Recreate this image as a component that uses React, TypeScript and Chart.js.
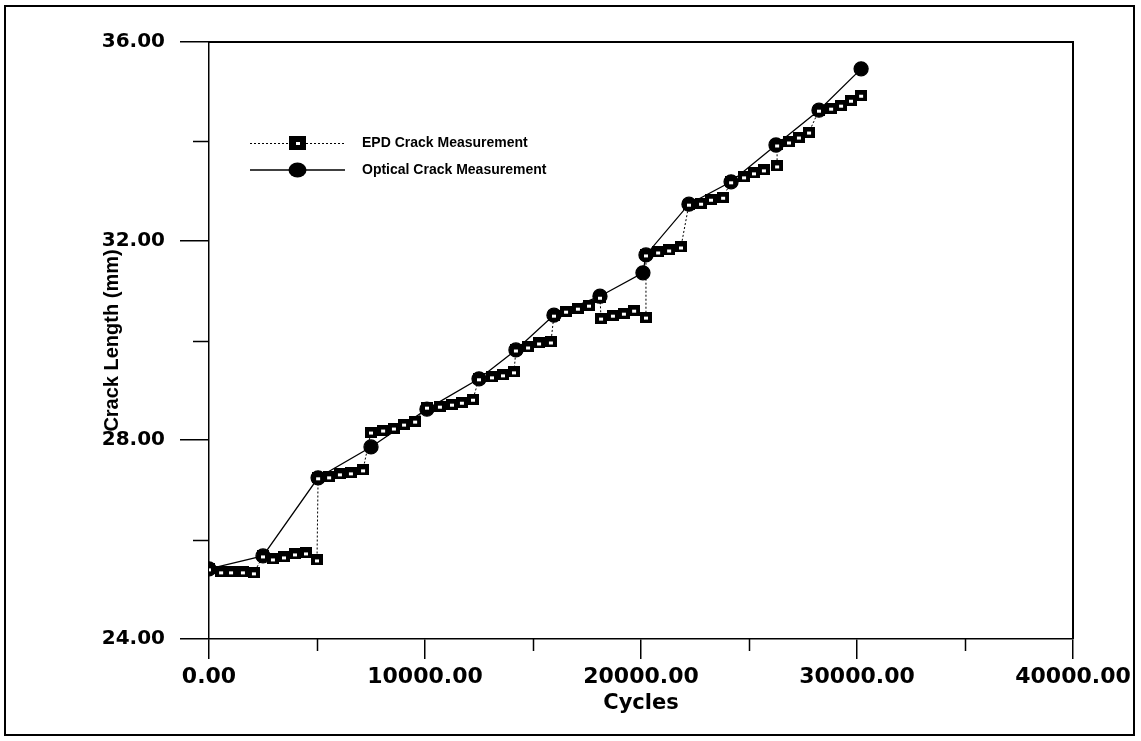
import React, { useEffect, useRef } from 'react';
import { Chart, registerables } from 'chart.js';

Chart.register(...registerables);

// ---- Data ----
const seriesNames = ['EPD Crack Measurement', 'Optical Crack Measurement'];

const epdCycles = [
  0, 560, 1020, 1570, 2080,
  2500, 2960, 3470, 3980, 4490, 5000,
  5050, 5560, 6060, 6570, 7130,
  7500, 8060, 8560, 9030, 9540,
  10090, 10690, 11250, 11710, 12220,
  12500, 13100, 13610, 14120,
  14210, 14770, 15280, 15830,
  15970, 16530, 17080, 17590, 18100,
  18150, 18700, 19210, 19680, 20230,
  20230, 20790, 21300, 21850,
  22220, 22780, 23240, 23800,
  24170, 24770, 25230, 25690, 26300,
  26300, 26850, 27310, 27780,
  28240, 28800, 29260, 29720, 30190,
];
const epdLength = [
  25.41, 25.35, 25.35, 25.35, 25.33,
  25.67, 25.61, 25.65, 25.71, 25.73, 25.59,
  27.24, 27.26, 27.32, 27.34, 27.4,
  28.16, 28.2, 28.24, 28.32, 28.38,
  28.66, 28.68, 28.72, 28.76, 28.82,
  29.23, 29.27, 29.31, 29.37,
  29.81, 29.87, 29.95, 29.97,
  30.51, 30.59, 30.65, 30.71, 30.87,
  30.45, 30.51, 30.55, 30.61, 30.47,
  31.72, 31.78, 31.82, 31.88,
  32.74, 32.76, 32.84, 32.88,
  33.19, 33.29, 33.37, 33.43, 33.51,
  33.93, 33.99, 34.09, 34.19,
  34.63, 34.67, 34.73, 34.83, 34.93,
];

const opticalCycles = [
  0, 2500, 5050, 7500, 10090, 12500, 14210, 15970,
  18100, 20090, 20230, 22220, 24170, 26250, 28240, 30190,
];
const opticalLength = [
  25.41, 25.67, 27.24, 27.86, 28.62, 29.23, 29.81, 30.51,
  30.89, 31.36, 31.72, 32.74, 33.19, 33.93, 34.63, 35.46,
];

const xTicks = [0, 10000, 20000, 30000, 40000];
const xMinorTicks = [5000, 15000, 25000, 35000];
const yTicks = [24, 28, 32, 36];
const yMinorTicks = [26, 30, 34];

const xTitle = 'Cycles';
const yTitle = 'Crack Length (mm)';

function makeSquare(w: number, h: number): HTMLCanvasElement {
  const c = document.createElement('canvas');
  c.width = w;
  c.height = h;
  const g = c.getContext('2d')!;
  g.fillStyle = '#000';
  g.fillRect(0, 0, w, h);
  g.fillStyle = '#fff';
  g.fillRect(Math.round(w / 2 - 2), Math.round(h / 2 - 1), 4, 3);
  return c;
}

export default function App() {
  const ref = useRef<HTMLCanvasElement | null>(null);

  useEffect(() => {
    const canvas = ref.current;
    if (!canvas) return;
    const sq = makeSquare(12, 11);

    const framePlugin = {
      id: 'frameAndLegend',
      afterDraw(chart: any) {
        const { ctx, chartArea } = chart;
        const xs = chart.scales.x;
        const ys = chart.scales.y;
        ctx.save();
        ctx.strokeStyle = '#000';
        ctx.setLineDash([]);
        // top and right borders of plot box
        ctx.lineWidth = 2;
        ctx.beginPath();
        ctx.moveTo(chartArea.left, chartArea.top);
        ctx.lineTo(chartArea.right, chartArea.top);
        ctx.lineTo(chartArea.right, chartArea.bottom);
        ctx.stroke();
        // minor ticks
        ctx.lineWidth = 1.5;
        ctx.beginPath();
        xMinorTicks.forEach((v) => {
          const px = Math.round(xs.getPixelForValue(v)) + 0.5;
          ctx.moveTo(px, chartArea.bottom);
          ctx.lineTo(px, chartArea.bottom + 12);
        });
        yMinorTicks.forEach((v) => {
          const py = Math.round(ys.getPixelForValue(v)) + 0.5;
          ctx.moveTo(chartArea.left - 16, py);
          ctx.lineTo(chartArea.left, py);
        });
        ctx.stroke();

        // legend
        const lx0 = chartArea.left + 41;
        const lx1 = chartArea.left + 136;
        const lmid = (lx0 + lx1) / 2;
        const ly1 = chartArea.top + 101;
        const ly2 = chartArea.top + 128;
        ctx.lineWidth = 1;
        ctx.setLineDash([2, 2]);
        ctx.beginPath();
        ctx.moveTo(lx0, ly1 + 0.5);
        ctx.lineTo(lx1, ly1 + 0.5);
        ctx.stroke();
        ctx.setLineDash([]);
        ctx.drawImage(makeSquare(17, 14), lmid - 8.5, ly1 - 7);
        ctx.lineWidth = 1.5;
        ctx.beginPath();
        ctx.moveTo(lx0, ly2);
        ctx.lineTo(lx1, ly2);
        ctx.stroke();
        ctx.fillStyle = '#000';
        ctx.beginPath();
        ctx.ellipse(lmid, ly2, 9, 7.5, 0, 0, Math.PI * 2);
        ctx.fill();
        ctx.font = 'bold 14px "Liberation Sans", Arial, sans-serif';
        ctx.textBaseline = 'middle';
        ctx.textAlign = 'left';
        ctx.fillText(seriesNames[0], chartArea.left + 153, ly1);
        ctx.fillText(seriesNames[1], chartArea.left + 153, ly2);
        ctx.restore();
      },
    };

    const chart = new Chart(canvas, {
      type: 'line',
      data: {
        datasets: [
          {
            label: seriesNames[0],
            data: epdCycles.map((x, i) => ({ x, y: epdLength[i] })),
            borderColor: '#000',
            backgroundColor: '#000',
            borderWidth: 1,
            borderDash: [2, 2],
            pointStyle: sq as any,
            pointRadius: 6,
            tension: 0,
          },
          {
            label: seriesNames[1],
            data: opticalCycles.map((x, i) => ({ x, y: opticalLength[i] })),
            borderColor: '#000',
            backgroundColor: '#000',
            pointBorderColor: '#000',
            borderWidth: 1.3,
            pointStyle: 'circle',
            pointRadius: 7,
            tension: 0,
          },
        ],
      },
      options: {
        responsive: false,
        animation: false,
        devicePixelRatio: 1,
        layout: { padding: { top: 42, right: 68, bottom: 0, left: 0 } },
        plugins: {
          legend: { display: false },
          tooltip: { enabled: false },
        },
        scales: {
          x: {
            type: 'linear',
            min: 0,
            max: 40000,
            afterBuildTicks: (s: any) => {
              s.ticks = xTicks.map((v) => ({ value: v }));
            },
            afterFit: (s: any) => {
              s.height = 102;
            },
            ticks: {
              callback: (v: any) => Number(v).toFixed(2),
              font: { family: 'DejaVu Sans', weight: 'bold', size: 22 },
              color: '#000',
              padding: 5,
              maxRotation: 0,
              autoSkip: false,
            },
            grid: {
              drawOnChartArea: false,
              tickLength: 20,
              color: '#000',
              lineWidth: 1.5,
            },
            border: { color: '#000', width: 1.5 },
            title: {
              display: true,
              text: xTitle,
              color: '#000',
              font: { family: 'DejaVu Sans', weight: 'bold', size: 21 },
              padding: { top: 0, bottom: 25 },
            },
          },
          y: {
            type: 'linear',
            min: 24,
            max: 36,
            afterBuildTicks: (s: any) => {
              s.ticks = yTicks.map((v) => ({ value: v }));
            },
            afterFit: (s: any) => {
              s.width = 209;
            },
            ticks: {
              callback: (v: any) => Number(v).toFixed(2),
              font: { family: 'DejaVu Sans', weight: 'bold', size: 20 },
              color: '#000',
              padding: 15,
              autoSkip: false,
            },
            grid: {
              drawOnChartArea: false,
              tickLength: 29,
              color: '#000',
              lineWidth: 1.5,
            },
            border: { color: '#000', width: 1.5 },
            title: {
              display: true,
              text: yTitle,
              color: '#000',
              font: { family: 'Liberation Sans', weight: 'bold', size: 20 },
              padding: { top: 100, bottom: 0 },
            },
          },
        },
      },
      plugins: [framePlugin],
    } as any);

    return () => chart.destroy();
  }, []);

  return (
    <div style={{ position: 'fixed', left: 0, top: 0, width: 1141, height: 741, background: '#fff' }}>
      <canvas ref={ref} width={1141} height={741} style={{ position: 'absolute', left: 0, top: 0, width: 1141, height: 741 }} />
      <div
        style={{
          position: 'absolute',
          left: 4,
          top: 5,
          width: 1127,
          height: 727,
          border: '2px solid #000',
          pointerEvents: 'none',
        }}
      />
    </div>
  );
}
